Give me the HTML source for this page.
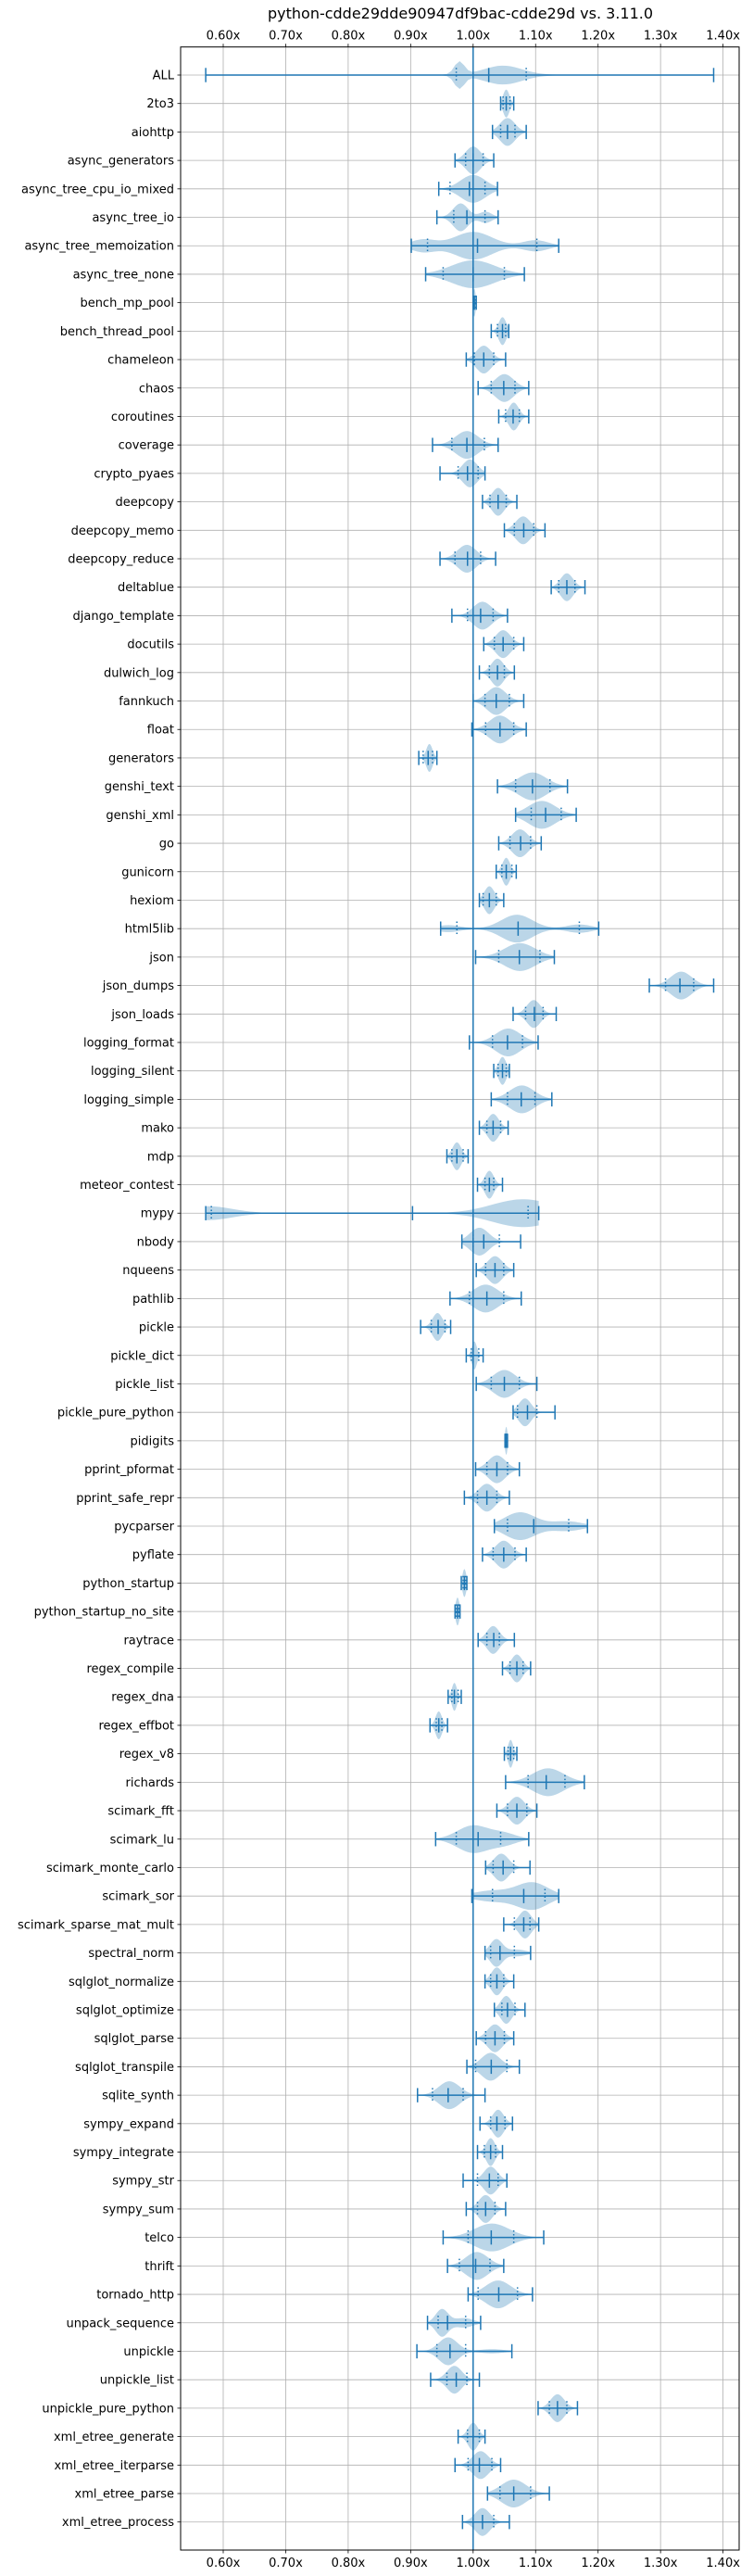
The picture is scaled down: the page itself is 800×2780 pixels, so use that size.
<!DOCTYPE html>
<html><head><meta charset="utf-8"><style>
html,body{margin:0;padding:0;background:#fff;}
svg{display:block;font-family:"DejaVu Sans","Liberation Sans",sans-serif;}
</style></head><body>
<svg id="chart" width="800" height="2780" viewBox="0 0 800 2780" xmlns="http://www.w3.org/2000/svg">
<text x="497" y="20" font-size="16" text-anchor="middle" fill="#000">python-cdde29dde90947df9bac-cdde29d vs. 3.11.0</text>
<g id="grid"></g><g id="violins"></g><g id="marks"></g><g id="axes"></g>
</svg>
<script>
const names=["ALL","2to3","aiohttp","async_generators","async_tree_cpu_io_mixed","async_tree_io","async_tree_memoization","async_tree_none","bench_mp_pool","bench_thread_pool","chameleon","chaos","coroutines","coverage","crypto_pyaes","deepcopy","deepcopy_memo","deepcopy_reduce","deltablue","django_template","docutils","dulwich_log","fannkuch","float","generators","genshi_text","genshi_xml","go","gunicorn","hexiom","html5lib","json","json_dumps","json_loads","logging_format","logging_silent","logging_simple","mako","mdp","meteor_contest","mypy","nbody","nqueens","pathlib","pickle","pickle_dict","pickle_list","pickle_pure_python","pidigits","pprint_pformat","pprint_safe_repr","pycparser","pyflate","python_startup","python_startup_no_site","raytrace","regex_compile","regex_dna","regex_effbot","regex_v8","richards","scimark_fft","scimark_lu","scimark_monte_carlo","scimark_sor","scimark_sparse_mat_mult","spectral_norm","sqlglot_normalize","sqlglot_optimize","sqlglot_parse","sqlglot_transpile","sqlite_synth","sympy_expand","sympy_integrate","sympy_str","sympy_sum","telco","thrift","tornado_http","unpack_sequence","unpickle","unpickle_list","unpickle_pure_python","xml_etree_generate","xml_etree_iterparse","xml_etree_parse","xml_etree_process"];
const minVals=[.572,1.044,1.031,.971,.945,.942,.901,.924,1.0,1.029,.989,1.008,1.041,.935,.947,1.015,1.05,.947,1.125,.966,1.017,1.01,1.0,.998,.913,1.039,1.068,1.041,1.037,1.01,.948,1.004,1.282,1.064,.994,1.033,1.029,1.01,.958,1.007,.572,.982,1.005,.963,.916,.989,1.005,1.064,1.051,1.004,.986,1.034,1.015,.981,.971,1.008,1.047,.96,.931,1.05,1.052,1.038,.94,1.02,.998,1.049,1.019,1.019,1.034,1.005,.99,.911,1.011,1.007,.984,.989,.952,.959,.992,.927,.91,.932,1.104,.976,.971,1.023,.983];
const maxVals=[1.385,1.065,1.085,1.033,1.039,1.04,1.137,1.082,1.005,1.057,1.052,1.089,1.089,1.04,1.019,1.07,1.115,1.036,1.179,1.055,1.081,1.066,1.081,1.085,.942,1.151,1.165,1.109,1.069,1.049,1.201,1.13,1.385,1.133,1.104,1.058,1.126,1.056,.992,1.047,1.105,1.076,1.065,1.077,.964,1.016,1.102,1.131,1.055,1.074,1.058,1.183,1.085,.99,.979,1.066,1.092,.981,.959,1.07,1.178,1.102,1.089,1.091,1.137,1.105,1.092,1.065,1.083,1.065,1.074,1.019,1.063,1.047,1.054,1.052,1.113,1.049,1.095,1.012,1.062,1.01,1.167,1.019,1.044,1.122,1.058];
const midVals=[1.025,1.053,1.055,1.0,.994,.99,1.007,1.0,1.002,1.047,1.017,1.049,1.064,.99,.991,1.04,1.081,.991,1.15,1.012,1.048,1.039,1.037,1.043,.928,1.095,1.116,1.076,1.053,1.026,1.072,1.074,1.331,1.098,1.055,1.047,1.077,1.032,.974,1.026,.903,1.017,1.035,1.022,.944,1.0,1.05,1.087,1.053,1.038,1.022,1.097,1.049,.986,.975,1.033,1.07,.97,.945,1.06,1.117,1.07,1.008,1.048,1.081,1.081,1.043,1.038,1.055,1.035,1.029,.96,1.038,1.028,1.026,1.02,1.029,1.004,1.041,.959,.963,.973,1.135,1.0,1.01,1.065,1.015];
const q1Vals=[.973,1.048,1.044,.988,.963,.969,.927,.952,1.001,1.039,1.002,1.029,1.052,.966,.976,1.027,1.066,.971,1.137,.991,1.034,1.026,1.019,1.02,.92,1.068,1.093,1.059,1.046,1.016,.974,1.041,1.308,1.084,1.031,1.04,1.055,1.022,.966,1.019,.581,1.0,1.02,.994,.933,.997,1.029,1.071,1.052,1.022,1.007,1.055,1.032,.984,.973,1.022,1.059,.966,.941,1.056,1.088,1.055,.973,1.032,1.031,1.066,1.028,1.028,1.046,1.02,1.004,.935,1.028,1.018,1.007,1.007,.992,.978,1.008,.944,.942,.958,1.122,.991,.992,1.043,1.0];
const q3Vals=[1.085,1.059,1.067,1.016,1.019,1.019,1.102,1.05,1.004,1.052,1.033,1.067,1.074,1.018,1.008,1.053,1.097,1.012,1.163,1.032,1.065,1.05,1.058,1.065,.935,1.123,1.141,1.092,1.062,1.037,1.17,1.107,1.353,1.112,1.079,1.053,1.099,1.044,.984,1.033,1.088,1.042,1.049,1.049,.955,1.009,1.074,1.102,1.054,1.055,1.038,1.153,1.067,.988,.977,1.042,1.08,.976,.95,1.065,1.147,1.086,1.044,1.065,1.115,1.091,1.066,1.049,1.067,1.05,1.054,.984,1.051,1.036,1.04,1.035,1.065,1.027,1.071,.988,.988,.99,1.15,1.01,1.03,1.092,1.033];
const peakVals=[.978,1.053,1.055,1.0,1.0,.98,1.0,1.0,1.002,1.047,1.017,1.05,1.065,.99,.995,1.04,1.08,.99,1.15,1.015,1.048,1.039,1.037,1.043,.93,1.095,1.11,1.075,1.053,1.026,1.07,1.075,1.333,1.097,1.056,1.047,1.078,1.032,.974,1.026,1.08,1.01,1.035,1.02,.943,1.002,1.05,1.083,1.053,1.038,1.022,1.075,1.049,.986,.975,1.032,1.07,.97,.945,1.06,1.12,1.07,1.0,1.045,1.095,1.083,1.037,1.038,1.053,1.035,1.028,.962,1.04,1.028,1.028,1.02,1.03,1.006,1.04,.95,.96,.97,1.135,1.0,1.012,1.065,1.015];
const sdVals=[.008,.005,.012,.012,.02,.012,.03,.035,.002,.006,.012,.015,.008,.018,.012,.01,.012,.015,.01,.015,.012,.01,.015,.017,.005,.022,.022,.013,.006,.008,.025,.025,.017,.011,.02,.006,.02,.009,.007,.007,.05,.015,.012,.02,.008,.004,.018,.01,.002,.014,.013,.025,.013,.003,.003,.01,.009,.004,.005,.004,.025,.012,.025,.012,.025,.01,.01,.009,.009,.012,.015,.017,.009,.007,.011,.011,.028,.018,.02,.01,.015,.012,.011,.008,.013,.02,.012];
// extra density modes: [rowIndex, center, sd, relativeHeight]
const extraModes=[[0,1.048,.03,.7],[0,1.0,.12,.04],[5,1.02,.01,.4],[6,1.1,.02,.4],[6,.92,.02,.45],[30,.96,.02,.25],[30,1.17,.02,.3],[40,.575,.04,.5],[51,1.15,.025,.35],[62,1.05,.02,.4],[64,1.03,.03,.4],[66,1.07,.015,.25],[79,.985,.015,.35],[80,1.03,.02,.15]];

const NS="http://www.w3.org/2000/svg";
const L=195,R=798,T=50.7,B=2752;
function xs(v){return 510.8+(v-1)*674.5;}
function ys(i){return 81+i*30.706;}
function mk(tag,attrs,parent){const e=document.createElementNS(NS,tag);for(const k in attrs)e.setAttribute(k,attrs[k]);parent.appendChild(e);return e;}
const grid=document.getElementById('grid'),vio=document.getElementById('violins'),marks=document.getElementById('marks'),axes=document.getElementById('axes');
const xticks=[.6,.7,.8,.9,1.0,1.1,1.2,1.3,1.4];
xticks.forEach(t=>{
  const x=xs(t);
  const g=mk('line',{x1:x,x2:x,y1:T,y2:B,stroke:'#b0b0b0','stroke-width':0.8},grid);
  
  
  [[T,T-3.5,T-8],[B,B+3.5,B+18]].forEach(([a,b,ty])=>{
    const tk=mk('line',{x1:x,x2:x,y1:a,y2:b,stroke:'#000','stroke-width':0.8},axes);
    
    
    const lb=mk('text',{x:x,y:ty,'font-size':13,'text-anchor':'middle',fill:'#000'},axes);
    lb.textContent=t.toFixed(2)+'x';
    
    
  });
});
const HW=15;
names.forEach((n,i)=>{
  const y=ys(i);
  const g=mk('line',{x1:L,x2:R,y1:y,y2:y,stroke:'#b0b0b0','stroke-width':0.8},grid);
  
  
  const tk=mk('line',{x1:L-3.5,x2:L,y1:y,y2:y,stroke:'#000','stroke-width':0.8},axes);
  
  
  const lb=mk('text',{x:L-7,y:y+4.5,'font-size':13,'text-anchor':'end',fill:'#000'},axes);
  lb.textContent=n;
  
  
  // density
  const modes=[[peakVals[i],sdVals[i],1]];
  extraModes.forEach(m=>{if(m[0]===i)modes.push([m[1],m[2],m[3]]);});
  const lo=minVals[i],hi=maxVals[i],N=120,pts=[];let mx=0;
  for(let k=0;k<=N;k++){const v=lo+(hi-lo)*k/N;let d=0;modes.forEach(([c,s,h])=>{d+=h*Math.exp(-0.5*((v-c)/s)**2);});pts.push([v,d]);if(d>mx)mx=d;}
  let p='';
  pts.forEach(([v,d],k)=>{p+=(k?'L':'M')+xs(v).toFixed(2)+','+(y-HW*d/mx).toFixed(2);});
  for(let k=pts.length-1;k>=0;k--){const[v,d]=pts[k];p+='L'+xs(v).toFixed(2)+','+(y+HW*d/mx).toFixed(2);}
  p+='Z';
  const vp=mk('path',{d:p,fill:'#1f77b4','fill-opacity':0.3,stroke:'none'},vio);
  
  
  const gm=mk('g',{stroke:'#1f77b4','stroke-width':1.5},marks);
  
  
  mk('line',{x1:xs(lo),x2:xs(hi),y1:y,y2:y},gm);
  [lo,hi,midVals[i]].forEach(v=>mk('line',{x1:xs(v),x2:xs(v),y1:y-7.7,y2:y+7.7},gm));
  [q1Vals[i],q3Vals[i]].forEach(v=>mk('line',{x1:xs(v),x2:xs(v),y1:y-7.7,y2:y+7.7,'stroke-dasharray':'1.5,2.5','stroke-width':1.5},gm));
});
const ref=mk('line',{x1:xs(1),x2:xs(1),y1:T,y2:B,stroke:'#1f77b4','stroke-width':1.5},marks);


const fr=mk('rect',{x:L,y:T,width:R-L,height:B-T,fill:'none',stroke:'#000','stroke-width':1},axes);


</script>
</body></html>
